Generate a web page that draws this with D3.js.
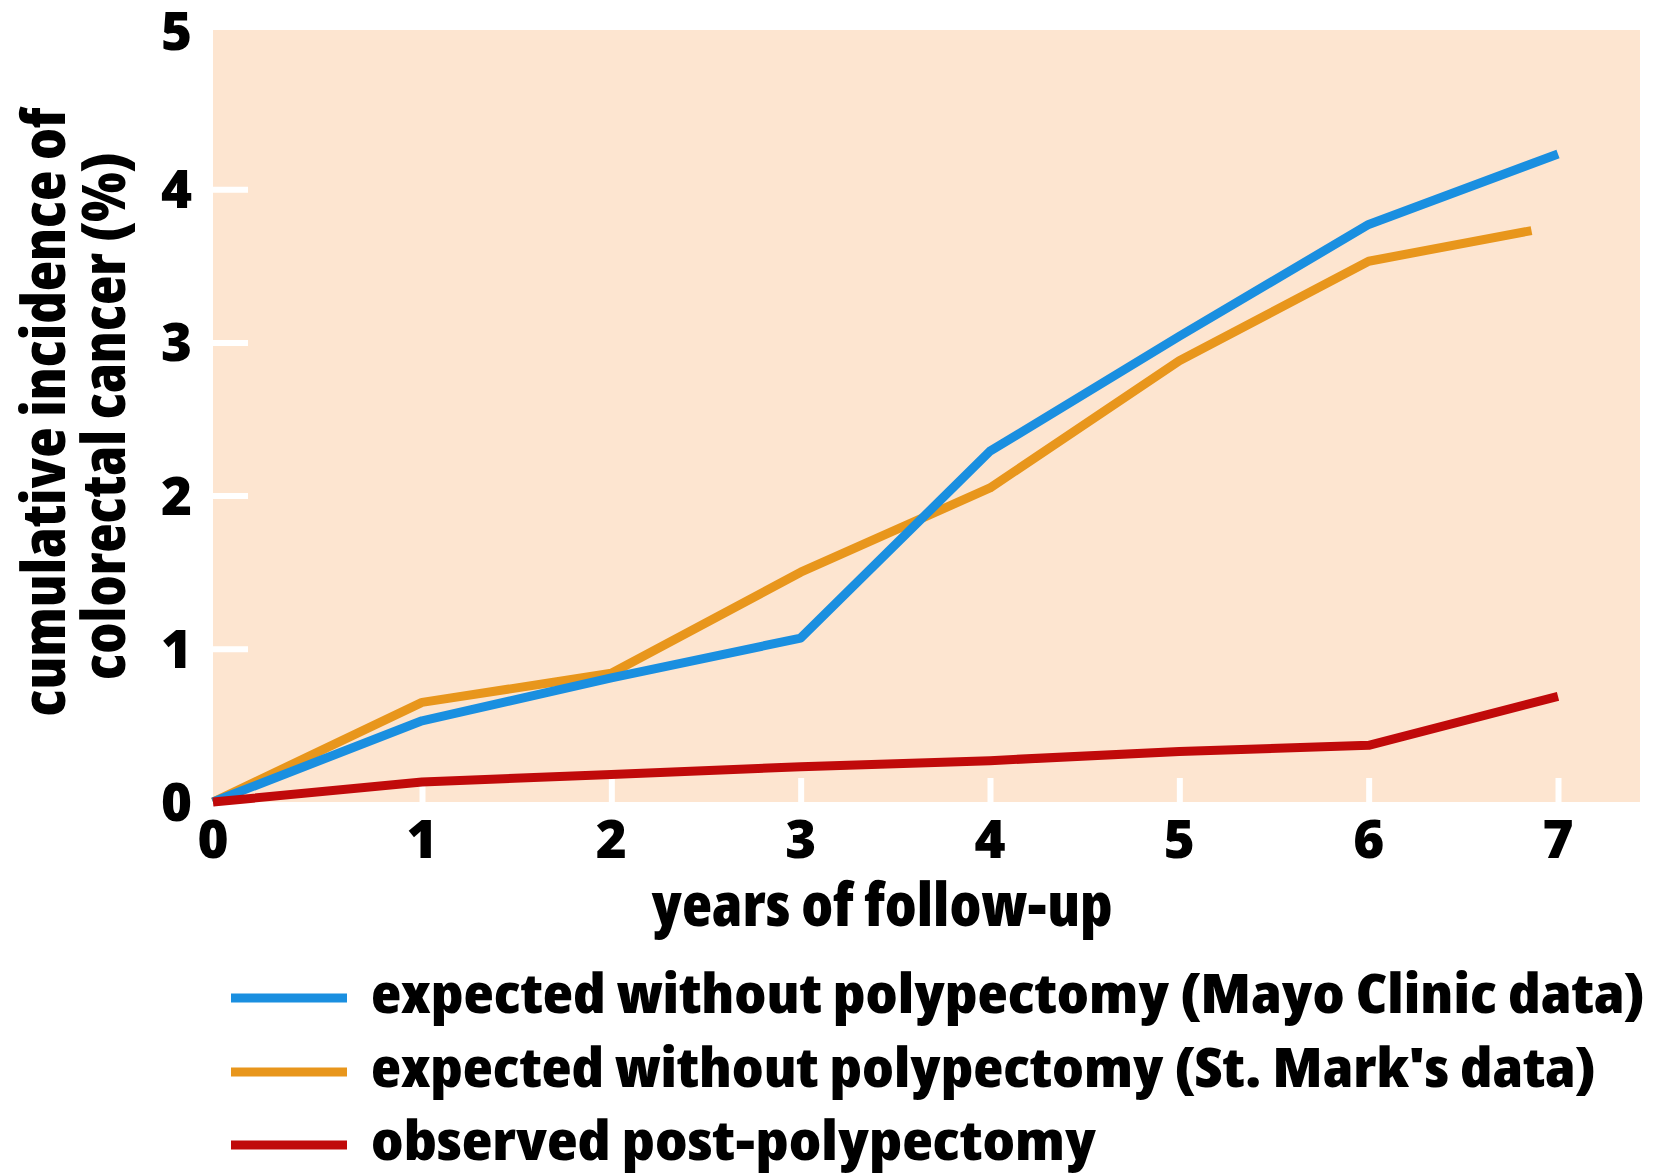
<!DOCTYPE html>
<html>
<head>
<meta charset="utf-8">
<script src="https://cdn.jsdelivr.net/npm/d3@7"></script>
<style>
  html, body { margin: 0; padding: 0; background: #ffffff; }
  svg { display: block; }
  text { font-family: "Open Sans", "Noto Sans", sans-serif; font-weight: 800; fill: #000; font-stretch: 80%; }
  text.tick-label { font-stretch: 100%; }
</style>
</head>
<body>
<svg id="chart" width="1661" height="1175"></svg>
<script>
// ---------- data ----------
const years = [0, 1, 2, 3, 4, 5, 6, 7];
const mayoValues = [0, 0.53, 0.81, 1.07, 2.29, 3.04, 3.77, 4.23];
const stMarkYears = [0, 1, 2, 3, 4, 5, 6, 6.86];
const stMarkValues = [0, 0.65, 0.84, 1.50, 2.05, 2.88, 3.53, 3.73];
const observedValues = [0, 0.13, 0.18, 0.23, 0.27, 0.33, 0.37, 0.69];
const xTickValues = [0, 1, 2, 3, 4, 5, 6, 7];
const yTickValues = [0, 1, 2, 3, 4, 5];
const seriesNames = [
  "expected without polypectomy (Mayo Clinic data)",
  "expected without polypectomy (St. Mark's data)",
  "observed post-polypectomy"
];
const seriesColors = ["#1a8fe0", "#e8961c", "#c00a0a"];
const xAxisTitle = "years of follow-up";
const yAxisTitleLines = ["cumulative incidence of", "colorectal cancer (%)"];

// ---------- layout ----------
const svg = d3.select("#chart");
const panel = { left: 213, right: 1640, top: 30, bottom: 802 };

// x axis in the original is not uniform: 0→1 is wider than the later years
const x = d3.scaleLinear().domain([0, 1, 7]).range([213, 422, 1558]);
const y = d3.scaleLinear().domain([0, 5]).range([802, 36]);

// background panel
svg.append("rect")
  .attr("x", panel.left).attr("y", panel.top)
  .attr("width", panel.right - panel.left)
  .attr("height", panel.bottom - panel.top)
  .attr("fill", "#fde5d0");

// y ticks (white, inside panel)
const yAxis = d3.axisRight(y).tickValues(yTickValues.filter(d => d > 0 && d < 5)).tickSize(35).tickFormat("");
const gy = svg.append("g").attr("transform", `translate(${panel.left},0)`).call(yAxis);
gy.select(".domain").remove();
gy.selectAll(".tick line").attr("stroke", "#ffffff").attr("stroke-width", 6);

// x ticks (white, inside panel, pointing up)
const xAxis = d3.axisTop(x).tickValues(xTickValues.filter(d => d > 0)).tickSize(24).tickFormat("");
const gx = svg.append("g").attr("transform", `translate(0,${panel.bottom})`).call(xAxis);
gx.select(".domain").remove();
gx.selectAll(".tick line").attr("stroke", "#ffffff").attr("stroke-width", 6);

// tick labels
svg.append("g").selectAll("text").data(yTickValues).join("text")
  .attr("class", "tick-label")
  .attr("x", 192).attr("y", d => y(d) + (d === 5 ? 14 : 19))
  .attr("text-anchor", "end")
  .style("font-size", "53px")
  .text(d => d);

svg.append("g").selectAll("text").data(xTickValues).join("text")
  .attr("class", "tick-label")
  .attr("x", d => x(d)).attr("y", 858)
  .attr("text-anchor", "middle")
  .style("font-size", "53px")
  .text(d => d);

// axis titles
svg.append("text")
  .attr("x", 882).attr("y", 926)
  .attr("text-anchor", "middle")
  .style("font-size", "60px")
  .attr("textLength", 461).attr("lengthAdjust", "spacingAndGlyphs")
  .text(xAxisTitle);

const yTitlePos = [{ bx: 65, cy: 412, len: 609 }, { bx: 125, cy: 416, len: 528 }];
yAxisTitleLines.forEach((t, i) => {
  svg.append("text")
    .attr("transform", `translate(${yTitlePos[i].bx},${yTitlePos[i].cy}) rotate(-90)`)
    .attr("text-anchor", "middle")
    .style("font-size", "60px")
    .attr("textLength", yTitlePos[i].len).attr("lengthAdjust", "spacingAndGlyphs")
    .text(t);
});

// lines
const line = d3.line().x(d => x(d[0])).y(d => y(d[1]));
const seriesData = [
  d3.zip(years, mayoValues),
  d3.zip(stMarkYears, stMarkValues),
  d3.zip(years, observedValues)
];
const drawOrder = [1, 0, 2];
drawOrder.forEach(i => {
  svg.append("path")
    .attr("d", line(seriesData[i]))
    .attr("fill", "none")
    .attr("stroke", seriesColors[i])
    .attr("stroke-width", 9)
    .attr("stroke-linejoin", "round")
    .attr("stroke-linecap", "butt");
});

// legend
const legendRows = [998, 1072, 1145];
const legendLens = [1274, 1225, 725];
const lg = svg.append("g");
seriesNames.forEach((name, i) => {
  lg.append("line")
    .attr("x1", 231).attr("x2", 347)
    .attr("y1", legendRows[i]).attr("y2", legendRows[i])
    .attr("stroke", seriesColors[i]).attr("stroke-width", 9);
  lg.append("text")
    .attr("x", 371).attr("y", legendRows[i] + 15)
    .style("font-size", "55px")
    .attr("textLength", legendLens[i]).attr("lengthAdjust", "spacingAndGlyphs")
    .text(name);
});
</script>
</body>
</html>
